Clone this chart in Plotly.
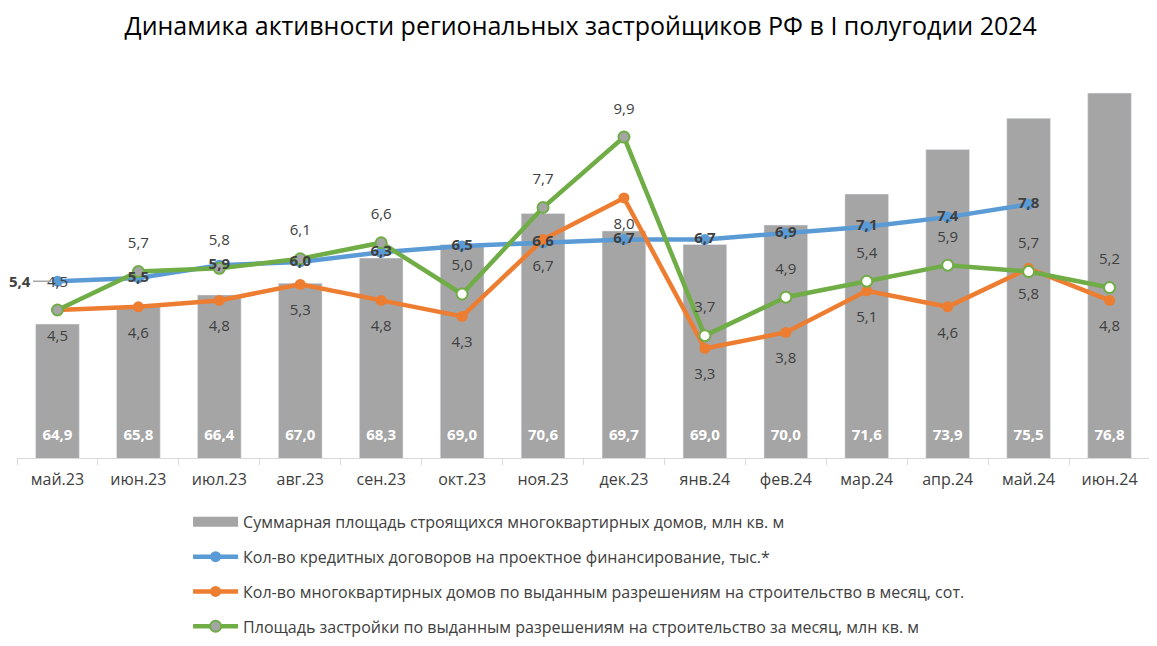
import plotly.graph_objects as go

months = ["май.23", "июн.23", "июл.23", "авг.23", "сен.23", "окт.23", "ноя.23",
          "дек.23", "янв.24", "фев.24", "мар.24", "апр.24", "май.24", "июн.24"]
area_total = [64.9, 65.8, 66.4, 67.0, 68.3, 69.0, 70.6, 69.7, 69.0, 70.0, 71.6, 73.9, 75.5, 76.8]
loans = [5.4, 5.5, 5.9, 6.0, 6.3, 6.5, 6.6, 6.7, 6.7, 6.9, 7.1, 7.4, 7.8, None]
houses = [4.5, 4.6, 4.8, 5.3, 4.8, 4.3, 6.7, 8.0, 3.3, 3.8, 5.1, 4.6, 5.8, 4.8]
area_permits = [4.5, 5.7, 5.8, 6.1, 6.6, 5.0, 7.7, 9.9, 3.7, 4.9, 5.4, 5.9, 5.7, 5.2]

names = [
    "Суммарная площадь строящихся многоквартирных домов, млн кв. м",
    "Кол-во кредитных договоров на проектное финансирование, тыс.*",
    "Кол-во многоквартирных домов по выданным разрешениям на строительство в месяц, сот.",
    "Площадь застройки по выданным разрешениям на строительство за месяц, млн кв. м",
]

GRAY = "#A5A5A5"
BLUE = "#5B9BD5"
ORANGE = "#ED7D31"
GREEN = "#70AD47"
TXT = "#404040"
FONT = "Open Sans, Noto Sans, sans-serif"

Y1_RANGE = [58, 80.0]
Y2_RANGE = [-0.12, 13.21]


def fmt(v):
    return "" if v is None else f"{v:.1f}".replace(".", ",")


fig = go.Figure()

fig.add_trace(go.Bar(
    x=months, y=area_total, name=names[0], marker_color=GRAY, width=0.54,
    showlegend=False, hoverinfo="skip",
))
# legend entry for bars (wide grey rectangle)
fig.add_trace(go.Scatter(
    x=[None], y=[None], name=names[0], mode="lines",
    line=dict(color=GRAY, width=10), legendgroup="g0",
))
# bar value labels near the base
fig.add_trace(go.Scatter(
    x=months, y=[Y1_RANGE[0] + 1.1] * len(months), mode="text",
    text=[fmt(v) for v in area_total], textposition="middle center",
    textfont=dict(color="white", size=15, family=FONT, weight="bold"),
    showlegend=False, hoverinfo="skip",
))

fig.add_trace(go.Scatter(
    x=months, y=loans, name=names[1], yaxis="y2", mode="lines+markers",
    line=dict(color=BLUE, width=4.5), marker=dict(color=BLUE, size=11),
    legendgroup="g1",
))

fig.add_trace(go.Scatter(
    x=months, y=houses, name=names[2], yaxis="y2", mode="lines+markers",
    line=dict(color=ORANGE, width=4.5), marker=dict(color=ORANGE, size=11),
    legendgroup="g2",
))

green_fill = [GRAY, GRAY, GRAY, GRAY, GRAY, "white", GRAY, GRAY,
              "white", "white", "white", "white", "white", "white"]
fig.add_trace(go.Scatter(
    x=months, y=area_permits, name=names[3], yaxis="y2", mode="lines+markers",
    line=dict(color=GREEN, width=4.5),
    marker=dict(color=green_fill, size=11, line=dict(color=GREEN, width=2)),
    legendgroup="g3",
))

# labels (drawn on top of all lines)
fig.add_trace(go.Scatter(
    x=months, y=houses, yaxis="y2", mode="markers+text",
    marker=dict(size=30, opacity=0),
    text=[fmt(v) for v in houses], textposition="bottom center",
    textfont=dict(color=TXT, size=15, family=FONT),
    showlegend=False, hoverinfo="skip",
))
fig.add_trace(go.Scatter(
    x=months, y=area_permits, yaxis="y2", mode="markers+text",
    marker=dict(size=30, opacity=0),
    text=[fmt(v) for v in area_permits], textposition="top center",
    textfont=dict(color=TXT, size=15, family=FONT),
    showlegend=False, hoverinfo="skip",
))
fig.add_trace(go.Scatter(
    x=months[1:], y=loans[1:], yaxis="y2", mode="text",
    text=[fmt(v) for v in loans[1:]], textposition="middle center",
    textfont=dict(color=TXT, size=15, family=FONT, weight="bold"),
    showlegend=False, hoverinfo="skip",
))

fig.add_annotation(
    x=months[0], y=loans[0], xref="x", yref="y2", text=fmt(loans[0]),
    showarrow=True, arrowhead=0, arrowwidth=1.5, arrowcolor=GRAY,
    ax=-37, ay=0, standoff=6,
    font=dict(color=TXT, size=15, family=FONT, weight="bold"),
)

fig.update_layout(
    width=1157, height=646,
    margin=dict(l=9, r=15, t=23, b=196, autoexpand=False),
    paper_bgcolor="white", plot_bgcolor="white",
    title=dict(text="Динамика активности региональных застройщиков РФ в I полугодии 2024",
               x=0.495, xanchor="center", y=1 - 18 / 646, yanchor="middle", yref="container",
               font=dict(size=25, color="black", family=FONT)),
    xaxis=dict(type="category", range=[-0.5, len(months) - 0.5], showgrid=False,
               showline=True, linecolor="#D9D9D9",
               linewidth=1, ticks="outside", tickson="boundaries", ticklen=6,
               tickcolor="#D9D9D9", ticklabelstandoff=7,
               tickfont=dict(size=16, color=TXT, family=FONT)),
    yaxis=dict(range=Y1_RANGE, visible=False, showgrid=False),
    yaxis2=dict(range=Y2_RANGE, overlaying="y", side="right", visible=False,
                showgrid=False),
    showlegend=True,
    legend=dict(x=0.151, y=-0.110, xanchor="left", yanchor="top",
                orientation="v", tracegroupgap=11, itemwidth=45,
                font=dict(size=16, color=TXT, family=FONT),
                bgcolor="rgba(0,0,0,0)"),
)

fig.write_html("out.html")
